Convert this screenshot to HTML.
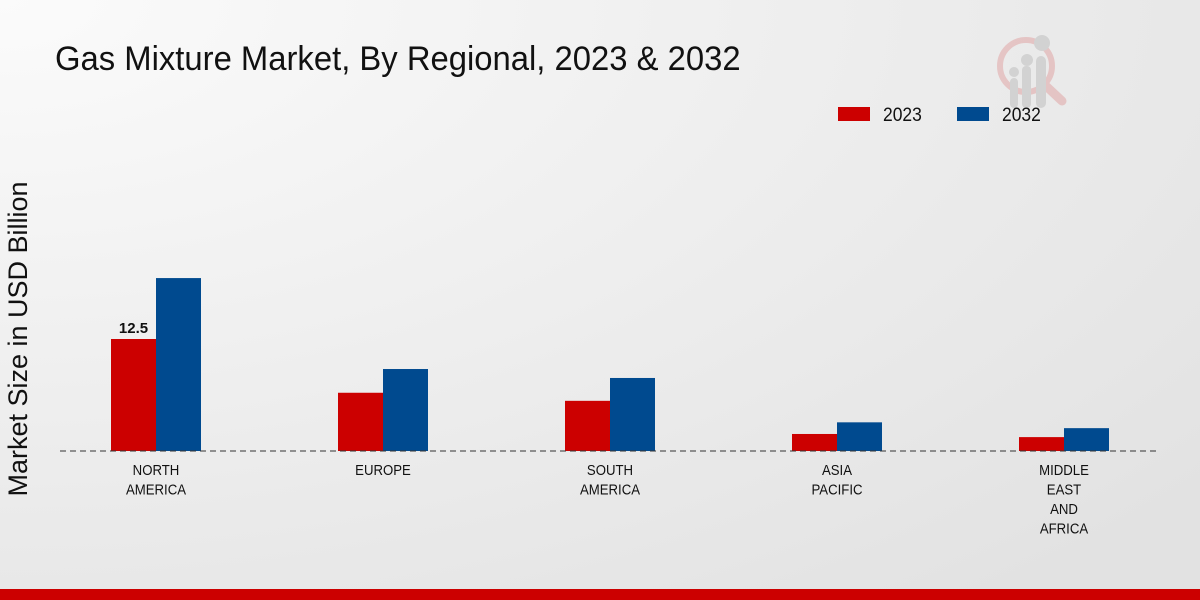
<!DOCTYPE html>
<html><head><meta charset="utf-8"><style>
body{margin:0;width:1200px;height:600px;overflow:hidden;font-family:"Liberation Sans",sans-serif}
svg{display:block}
</style></head><body>
<svg width="1200" height="600">
<defs><radialGradient id="bg" cx="0" cy="0" r="1.3"><stop offset="0" stop-color="#fbfbfb"/><stop offset="1" stop-color="#e2e2e2"/></radialGradient></defs>
<rect width="1200" height="600" fill="url(#bg)"/>
<text x="55" y="70" font-size="34" fill="#111" transform="translate(55 0) scale(0.965 1) translate(-55 0)">Gas Mixture Market, By Regional, 2023 &amp; 2032</text>
<g opacity="0.5">
<circle cx="1026" cy="66" r="26" fill="none" stroke="#e0a0a0" stroke-width="6"/>
<line x1="1046" y1="86" x2="1062" y2="101" stroke="#e0a0a0" stroke-width="9" stroke-linecap="round"/>
<rect x="1010" y="78" width="8" height="30" rx="4" fill="#bbb"/><rect x="1022" y="66" width="9" height="42" rx="4" fill="#bbb"/><rect x="1036" y="56" width="10" height="52" rx="5" fill="#bbb"/>
<circle cx="1014" cy="72" r="5" fill="#bbb"/><circle cx="1027" cy="60" r="6" fill="#bbb"/><circle cx="1042" cy="43" r="8" fill="#bbb"/>
</g>
<g>
<rect x="838" y="107" width="32" height="14" fill="#cc0000"/>
<text x="883" y="121" font-size="19" fill="#111" transform="translate(883 0) scale(0.92 1) translate(-883 0)">2023</text>
<rect x="957" y="107" width="32" height="14" fill="#004a8f"/>
<text x="1002" y="121" font-size="19" fill="#111" transform="translate(1002 0) scale(0.92 1) translate(-1002 0)">2032</text>
</g>
<text transform="translate(27 339) rotate(-90)" text-anchor="middle" font-size="27" fill="#111">Market Size in USD Billion</text>
<g id="plot"></g>
<rect x="0" y="589" width="1200" height="11" fill="#cc0000"/>
</svg>
<script>
const categories=[["NORTH","AMERICA"],["EUROPE"],["SOUTH","AMERICA"],["ASIA","PACIFIC"],["MIDDLE","EAST","AND","AFRICA"]];
const values2023=[12.5,6.5,5.6,1.9,1.55];
const values2032=[19.3,9.15,8.15,3.2,2.55];
const valueLabels=["12.5",null,null,null,null];
const base=451, ppu=8.96, x0=156, step=227, bw=45;
const y=v=>base-v*ppu, xc=i=>x0+i*step;
const g=document.getElementById('plot'), NS="http://www.w3.org/2000/svg";
function mk(t,a){const e=document.createElementNS(NS,t);for(const k in a)e.setAttribute(k,a[k]);g.appendChild(e);return e;}
categories.forEach((c,i)=>{
 let r=mk('rect',{x:xc(i)-bw,y:y(values2023[i]),width:bw,height:values2023[i]*ppu,fill:'#cc0000'});
 
 
 let b=mk('rect',{x:xc(i),y:y(values2032[i]),width:bw,height:values2032[i]*ppu,fill:'#004a8f'});
 
 
 if(valueLabels[i]){let t=mk('text',{x:xc(i)-bw/2,y:y(values2023[i])-6,'text-anchor':'middle','font-size':15,'font-weight':'bold',fill:'#111'});t.textContent=valueLabels[i];
 
 }
 c.forEach((s,j)=>{let t=mk('text',{x:xc(i),y:475+j*19.5,'text-anchor':'middle','font-size':15,fill:'#111',transform:`translate(${xc(i)} 0) scale(0.88 1) translate(${-xc(i)} 0)`});t.textContent=s;
 
 });
});
let ax=mk('line',{x1:60,x2:1160,y1:base,y2:base,stroke:'#333','stroke-dasharray':'6,4','stroke-width':1});


</script>
</body></html>
